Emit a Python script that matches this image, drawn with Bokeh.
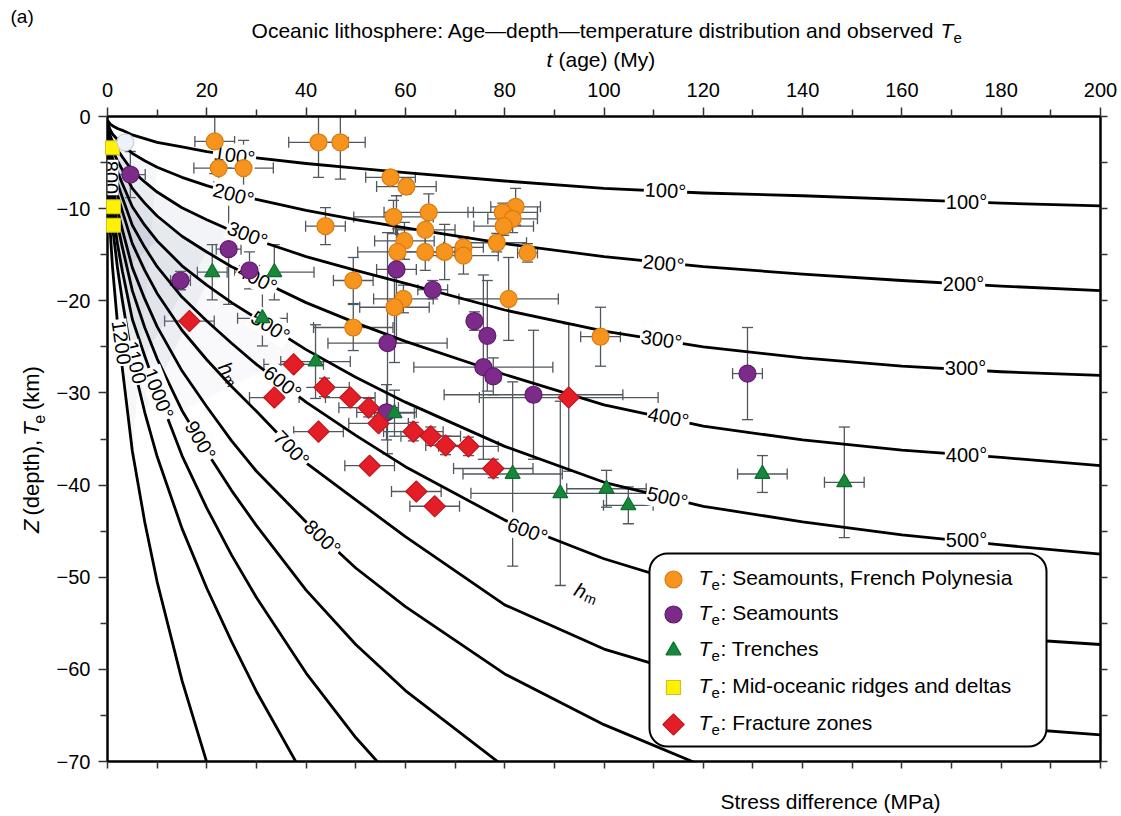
import math

from bokeh.core.properties import value
from bokeh.embed import file_html
from bokeh.layouts import column, row
from bokeh.models import (BoxAnnotation, ColumnDataSource, FixedTicker, Label,
                          LinearAxis, Range1d, TeeHead, Whisker)
from bokeh.plotting import figure
from bokeh.resources import INLINE

# ---------------------------------------------------------------------------
# Isotherms: depth (km, negative downward) of each temperature contour,
# tabulated on a common plate-age grid (My).
# ---------------------------------------------------------------------------
ages = [0, 0.5, 1, 2, 3, 5, 7.5, 10, 15, 20, 25, 30, 40, 50, 60, 80,
        100, 120, 140, 160, 180, 200]

iso_100 = [-0.4, -0.8, -1.0, -1.3, -1.5, -2.0, -2.4, -2.8, -3.3, -3.8, -4.2,
           -4.5, -5.1, -5.6, -6.1, -7.0, -7.8, -8.3, -8.6, -9.0, -9.4, -9.7]
iso_200 = [-0.6, -1.4, -1.9, -2.5, -3.0, -4.0, -4.8, -5.5, -6.6, -7.5, -8.3,
           -9.0, -10.2, -11.2, -12.1, -13.8, -15.2, -16.3, -17.1, -17.8,
           -18.4, -18.9]
iso_300 = [-0.8, -2.0, -2.7, -3.6, -4.4, -5.9, -7.1, -8.2, -9.9, -11.2,
           -12.4, -13.4, -15.2, -16.7, -18.1, -21.0, -23.3, -25.0, -26.2,
           -27.1, -27.7, -28.1]
iso_400 = [-1.0, -2.6, -3.6, -4.8, -5.8, -7.8, -9.4, -10.8, -13.0, -14.7,
           -16.3, -17.6, -20.2, -22.4, -24.4, -28.0, -31.3, -33.6, -35.1,
           -36.2, -37.0, -37.9]
iso_500 = [-1.2, -3.3, -4.5, -6.0, -7.3, -9.8, -11.8, -13.5, -16.2, -18.3,
           -20.2, -21.9, -25.3, -28.3, -31.0, -35.8, -39.7, -42.3, -44.0,
           -45.4, -46.5, -47.5]
iso_600 = [-1.4, -4.0, -5.4, -7.2, -8.8, -11.8, -14.2, -16.3, -19.6, -22.2,
           -24.6, -26.9, -31.0, -34.6, -38.0, -43.8, -48.0, -51.3, -53.7,
           -55.5, -56.6, -57.3]
iso_700 = [-1.6, -4.7, -6.3, -8.5, -10.3, -13.8, -16.7, -19.2, -23.2, -26.4,
           -29.3, -32.0, -37.6, -41.6, -45.6, -53.0, -57.8, -61.0, -63.4,
           -65.1, -66.3, -67.1]
iso_800 = [-1.8, -5.5, -7.4, -10.1, -12.3, -16.4, -19.8, -22.8, -27.6, -31.5,
           -35.2, -38.5, -44.0, -49.0, -53.2, -60.5, -66.0, -70.5]
iso_900 = [-2.0, -6.3, -8.5, -11.7, -14.2, -18.9, -22.9, -26.3, -31.9, -36.4,
           -40.6, -44.4, -51.4, -57.3, -62.3, -70.6]
iso_1000 = [-2.2, -7.4, -10.0, -13.8, -16.8, -22.0, -26.0, -29.8, -36.8,
            -42.5, -47.6, -52.2, -60.4, -67.4, -73.4]
iso_1100 = [-2.4, -8.8, -11.9, -16.4, -20.0, -26.5, -32.1, -36.9, -44.7,
            -51.2, -57.0, -62.4, -72.0]
iso_1200 = [-2.6, -12.0, -16.3, -22.4, -27.4, -36.3, -44.0, -50.5, -61.2,
            -70.1]

# ---------------------------------------------------------------------------
# Observed elastic thickness Te: age (My), Te (km), age error, Te error
# ---------------------------------------------------------------------------
fp_age = [21.6, 22.4, 27.4, 42.5, 46.9, 43.9, 57.0, 60.2, 57.6, 64.7, 64.0,
          59.8, 58.4, 64.0, 67.9, 71.7, 71.7, 82.2, 79.6, 81.6, 79.8, 78.4,
          84.6, 49.5, 59.6, 57.8, 49.5, 80.8, 99.3]
fp_te = [-2.7, -5.6, -5.6, -2.8, -2.8, -11.9, -6.6, -7.6, -10.9, -10.4,
         -12.3, -13.5, -14.7, -14.7, -14.7, -14.2, -15.1, -9.8, -10.4, -11.1,
         -11.9, -13.7, -14.8, -17.8, -19.8, -20.7, -22.9, -19.8, -23.9]
fp_age_err = [4, 5, 6, 6, 5, 4, 5, 6, 8, 9, 6, 6, 8, 6, 4, 4, 7, 5, 7, 5, 6,
              6, 2, 4, 6, 7, 8, 10, 4]
fp_te_err = [3.5, 1.5, 3, 3.8, 4, 2, 0.5, 0.8, 1.8, 2, 2, 2, 2.5, 2, 3, 1, 2,
             2, 1, 1.5, 1, 1, 1, 2.5, 1.5, 6, 2.5, 4.5, 3.2]

sm_age = [4.6, 14.7, 24.4, 28.6, 58.2, 65.5, 73.9, 76.5, 56.4, 75.7, 77.7,
          85.8, 56.2, 128.9]
sm_te = [-6.3, -17.8, -14.4, -16.7, -16.6, -18.8, -22.2, -23.8, -24.6, -27.2,
         -28.2, -30.2, -32.1, -27.9]
sm_age_err = [3, 2, 2.5, 2, 4, 3, 1, 1, 12, 14, 1.5, 18, 6, 3]
sm_te_err = [2.5, 1, 6, 2, 8, 1, 1, 6, 12, 10, 2, 7, 3, 5]

tr_age = [21.1, 33.6, 31.2, 41.9, 57.8, 81.6, 91.2, 100.5, 104.9, 131.9,
          148.4]
tr_te = [-16.9, -16.9, -21.9, -26.6, -32.2, -38.8, -40.9, -40.4, -42.2,
         -38.8, -39.7]
tr_age_err = [3, 8, 5, 7, 4, 10, 18, 8, 5, 5, 4]
tr_te_err = [3, 3, 3, 4, 2.5, 10, 10, 2, 2, 2, 6]

mor_age = [1.0, 1.2, 1.2]
mor_te = [-3.4, -9.8, -11.8]

fz_age = [16.5, 33.6, 37.5, 43.7, 42.5, 48.9, 52.6, 54.6, 61.6, 65.1, 68.1,
          72.7, 77.7, 52.8, 62.2, 65.9, 92.9]
fz_te = [-22.2, -30.5, -26.9, -29.4, -34.2, -30.5, -31.6, -33.3, -34.2,
         -34.7, -35.7, -35.8, -38.2, -37.9, -40.7, -42.3, -30.5]
fz_age_err = [5, 5, 6, 5, 5, 5, 6, 6, 6, 6, 4, 6, 8, 5, 5, 5, 18]
fz_te_err = [0, 0, 0.5, 1, 0.5, 0.5, 1, 0.5, 1, 1, 1, 1, 1, 0.5, 0.5, 0.5, 8]

ridge_pale_age = [3.6]
ridge_pale_te = [-2.8]

age_ticks = list(range(0, 201, 20))
age_minor = list(range(10, 200, 20))
depth_ticks = list(range(-70, 1, 10))
depth_minor = list(range(-65, 0, 10))

# ---------------------------------------------------------------------------
# Page layout (pixels): header strip, left strip + main plot, footer strip
# ---------------------------------------------------------------------------
PAGE_W, PAGE_H = 1121, 816
HEAD_H = 73
FOOT_H = 40
LEFT_W = 48
FL, FT, FW, FH = 107, 116, 993, 645          # plot frame on the page
X0, X1, Y0, Y1 = 0, 200, -70, 0
FONT = "Liberation Sans"


def ax(px):
    return X0 + (px - FL) / FW * (X1 - X0)


def ay(py):
    return Y1 - (py - FT) / FH * (Y1 - Y0)


def strip(width, height):
    f = figure(width=width, height=height, x_range=Range1d(0, width),
               y_range=Range1d(0, height), x_axis_location=None,
               y_axis_location=None, toolbar_location=None,
               output_backend="svg", min_border=0,
               background_fill_color="white", border_fill_color="white")
    f.outline_line_color = None
    f.grid.visible = False
    return f


def stext(f, top, text, px, py, size=21, align="left", italic=False,
          angle=0.0):
    h = f.height
    f.text(x=[px], y=[h - (py - top)], text=[text],
           text_font=value(FONT), text_font_size="%dpx" % size,
           text_align=align, text_baseline="middle",
           text_font_style="italic" if italic else "normal",
           text_color="black", angle=math.radians(angle))


# ---------------------------------------------------------------------------
# Main plot
# ---------------------------------------------------------------------------
p = figure(frame_width=FW, frame_height=FH,
           x_range=Range1d(X0, X1), y_range=Range1d(Y0, Y1),
           x_axis_location="above", y_axis_location="left",
           toolbar_location=None, output_backend="svg",
           min_border_left=FL - LEFT_W, min_border_right=PAGE_W - FL - FW,
           min_border_top=FT - HEAD_H,
           min_border_bottom=PAGE_H - FOOT_H - FT - FH,
           background_fill_color="white", border_fill_color="white")
p.outline_line_color = "black"
p.outline_line_width = 2
p.xgrid.visible = False
p.ygrid.visible = False


def style_axis(a):
    a.axis_line_color = "black"
    a.axis_line_width = 2
    a.major_tick_in = 0
    a.major_tick_out = 9
    a.minor_tick_in = 0
    a.minor_tick_out = 7
    a.major_tick_line_width = 1.5
    a.minor_tick_line_width = 1.5
    a.major_tick_line_color = "#333333"
    a.minor_tick_line_color = "#333333"
    a.major_label_text_font = FONT
    a.major_label_text_font_size = "20px"
    a.major_label_text_color = "black"


top = p.xaxis[0]
top.ticker = FixedTicker(ticks=age_ticks, minor_ticks=age_minor)
style_axis(top)
top.major_label_standoff = 11

left = p.yaxis[0]
left.ticker = FixedTicker(ticks=depth_ticks, minor_ticks=depth_minor)
style_axis(left)
left.major_label_standoff = 8
left.major_label_overrides = {t: ("\u2212%d" % -t if t < 0 else "0")
                              for t in depth_ticks}

bottom = LinearAxis(ticker=FixedTicker(ticks=list(range(0, 201, 10))))
style_axis(bottom)
bottom.major_tick_out = 7
bottom.major_label_standoff = 0
bottom.major_label_text_font_size = "0px"
bottom.major_label_overrides = {t: "" for t in range(0, 201, 10)}
p.add_layout(bottom, "below")

right = LinearAxis(ticker=FixedTicker(ticks=list(range(-70, 1, 5))))
style_axis(right)
right.major_tick_out = 7
right.major_label_standoff = 0
right.major_label_text_font_size = "0px"
right.major_label_overrides = {t: "" for t in range(-70, 1, 5)}
p.add_layout(right, "right")

# ---------------------------------------------------------------------------
# Soft shading of the hot young lithosphere near the ridge axis
# ---------------------------------------------------------------------------
HAZE = "#8493ae"
for upper, nu, lower, nl, alpha in [(iso_300, 11, iso_1100, 7, 0.10),
                                    (iso_400, 10, iso_1000, 7, 0.10),
                                    (iso_500, 8, iso_1000, 5, 0.12),
                                    (iso_200, 8, iso_1200, 6, 0.08),
                                    (iso_300, 6, iso_1100, 4, 0.08),
                                    (iso_500, 13, iso_900, 9, 0.05)]:
    xs = ages[:nu] + ages[:nl][::-1]
    ys = upper[:nu] + lower[:nl][::-1]
    p.patch(xs, ys, fill_color=HAZE, fill_alpha=alpha, line_alpha=0)

# Isotherm lines
for iso in [iso_100, iso_200, iso_300, iso_400, iso_500, iso_600, iso_700,
            iso_800, iso_900, iso_1000, iso_1100, iso_1200]:
    p.line(ages[:len(iso)], iso, line_color="black", line_width=2.8,
           line_join="round")

# ---------------------------------------------------------------------------
# Te observations with error bars
# ---------------------------------------------------------------------------
BAR = "#50575f"


def add_series(age, te, age_err, te_err, marker, size, fill, edge, angle=0.0):
    src = ColumnDataSource(dict(
        x=age, y=te,
        xl=[a - e for a, e in zip(age, age_err)],
        xu=[a + e for a, e in zip(age, age_err)],
        yl=[t - e for t, e in zip(te, te_err)],
        yu=[min(t + e, 0.0) for t, e in zip(te, te_err)],
    ))
    for base, lo, up, dim in [("y", "xl", "xu", "width"),
                              ("x", "yl", "yu", "height")]:
        p.add_layout(Whisker(
            source=src, base=base, lower=lo, upper=up, dimension=dim,
            line_color=BAR, line_width=1.3,
            lower_head=TeeHead(size=11, line_color=BAR, line_width=1.3),
            upper_head=TeeHead(size=11, line_color=BAR, line_width=1.3)))
    p.scatter("x", "y", source=src, marker=marker, size=size, angle=angle,
              fill_color=fill, line_color=edge, line_width=1.2,
              level="overlay")


ORANGE, ORANGE_E = "#f7941d", "#d97b12"
PURPLE, PURPLE_E = "#7d2b8b", "#5e1b6c"
GREEN, GREEN_E = "#17873a", "#0f6e2d"
YELLOW, YELLOW_E = "#fff200", "#cfc21a"
RED, RED_E = "#e41e26", "#c4141c"
DIAMOND_ANGLE = math.pi / 4

add_series(fp_age, fp_te, fp_age_err, fp_te_err, "circle", 17, ORANGE, ORANGE_E)
add_series(sm_age, sm_te, sm_age_err, sm_te_err, "circle", 17, PURPLE, PURPLE_E)
add_series(tr_age, tr_te, tr_age_err, tr_te_err, "triangle", 15, GREEN, GREEN_E)
add_series(fz_age, fz_te, fz_age_err, fz_te_err, "square", 15, RED, RED_E,
           angle=DIAMOND_ANGLE)
p.scatter(mor_age, mor_te, marker="square", size=14, fill_color=YELLOW,
          line_color=YELLOW_E, line_width=1, level="overlay")
p.scatter(ridge_pale_age, ridge_pale_te, marker="circle", size=17,
          fill_color="#eef1f7", line_color="#c9d1df", line_width=1.2,
          level="overlay")


# In-plot labels (positions given in page pixels)
def put(text, px, py, size=20, angle=0.0, align="center", italic=False,
        bg=None):
    lab = Label(x=ax(px), y=ay(py), text=text, text_font=FONT,
                text_font_size="%dpx" % size, text_align=align,
                text_baseline="middle", angle=math.radians(angle),
                text_font_style="italic" if italic else "normal",
                text_color="black")
    if bg is not None:
        lab.background_fill_color = bg
        lab.padding = 1
    p.add_layout(lab)


iso_labels = [
    ("100\u00b0", 234, 155, -8), ("200\u00b0", 233, 194, -15),
    ("300\u00b0", 247, 234, -21), ("400\u00b0", 257, 278, -27),
    ("500\u00b0", 270, 326, -32), ("600\u00b0", 282, 382, -38),
    ("700\u00b0", 291, 448, -46), ("800\u00b0", 322, 537, -43),
    ("900\u00b0", 200, 440, -60), ("1000\u00b0", 158, 393, -69),
    ("1100", 135, 362, -77), ("1200", 121, 342, -82), ("800", 110, 177, -90),
    ("100\u00b0", 665, 190, -3), ("200\u00b0", 663, 263, -6),
    ("300\u00b0", 661, 339, -8), ("400\u00b0", 668, 417, -11),
    ("500\u00b0", 667, 497, -13), ("600\u00b0", 527, 530, -20),
    ("100\u00b0", 966, 201, 0), ("200\u00b0", 963, 283, 0),
    ("300\u00b0", 965, 367, 0), ("400\u00b0", 966, 454, 0),
    ("500\u00b0", 966, 539, 0),
]
for text, px, py, ang in iso_labels:
    put(text, px, py, size=20, angle=ang, bg="white")

# Mechanical thickness h_m
put("h", 226, 368, size=20, angle=-58, italic=True)
put("m", 229, 380, size=14, angle=-58)
put("h", 580, 590, size=20, angle=-22, italic=True)
put("m", 590, 598, size=14, angle=-22)

# Legend box
p.add_layout(BoxAnnotation(left=ax(649), right=ax(1046), top=ay(553),
                           bottom=ay(746), fill_color="white", fill_alpha=1.0,
                           line_color="black", line_alpha=1.0, line_width=2,
                           border_radius=18))

legend_rows = [
    ("Seamounts, French Polynesia", 577, "circle", 17, ORANGE, ORANGE_E, 0.0),
    ("Seamounts", 612, "circle", 17, PURPLE, PURPLE_E, 0.0),
    ("Trenches", 648, "triangle", 15, GREEN, GREEN_E, 0.0),
    ("Mid-oceanic ridges and deltas", 685, "square", 14, YELLOW, YELLOW_E, 0.0),
    ("Fracture zones", 722, "square", 15, RED, RED_E, DIAMOND_ANGLE),
]
for text, py, marker, size, fill, edge, ang in legend_rows:
    p.scatter([ax(673)], [ay(py + 2)], marker=marker, size=size, angle=ang,
              fill_color=fill, line_color=edge, line_width=1.2,
              level="overlay")
    put("T", 698, py, size=21, align="left", italic=True)
    put("e", 711, py + 7, size=15, align="left")
    put(": " + text, 720, py, size=21, align="left")

# ---------------------------------------------------------------------------
# Header: panel tag, title and age axis title
# ---------------------------------------------------------------------------
head = strip(PAGE_W, HEAD_H)
stext(head, 0, "(a)", 10, 16, size=19)
stext(head, 0, "Oceanic lithosphere: Age\u2014depth\u2014temperature "
      "distribution and observed", 934, 30, size=21, align="right")
stext(head, 0, "T", 940, 30, size=21, italic=True)
stext(head, 0, "e", 953, 37, size=15)
stext(head, 0, "t", 546, 59, size=21, italic=True)
stext(head, 0, "(age) (My)", 558, 59, size=21)

# Left strip: depth axis title, written bottom to top
side = strip(LEFT_W, PAGE_H - HEAD_H - FOOT_H)
stext(side, HEAD_H, "Z", 31, 527, size=22, italic=True, angle=90)
stext(side, HEAD_H, "(depth),", 31, 508, size=22, angle=90)
stext(side, HEAD_H, "T", 31, 421, size=22, italic=True, angle=90)
stext(side, HEAD_H, "e", 38, 408, size=16, angle=90)
stext(side, HEAD_H, "(km)", 31, 393, size=22, angle=90)

# Footer: stress axis title
foot = strip(PAGE_W, FOOT_H)
stext(foot, PAGE_H - FOOT_H, "Stress difference (MPa)", 830, 801,
      align="center")

layout = column(head, row(side, p, spacing=0), foot, spacing=0)
open("out.html", "w").write(file_html(layout, INLINE))
